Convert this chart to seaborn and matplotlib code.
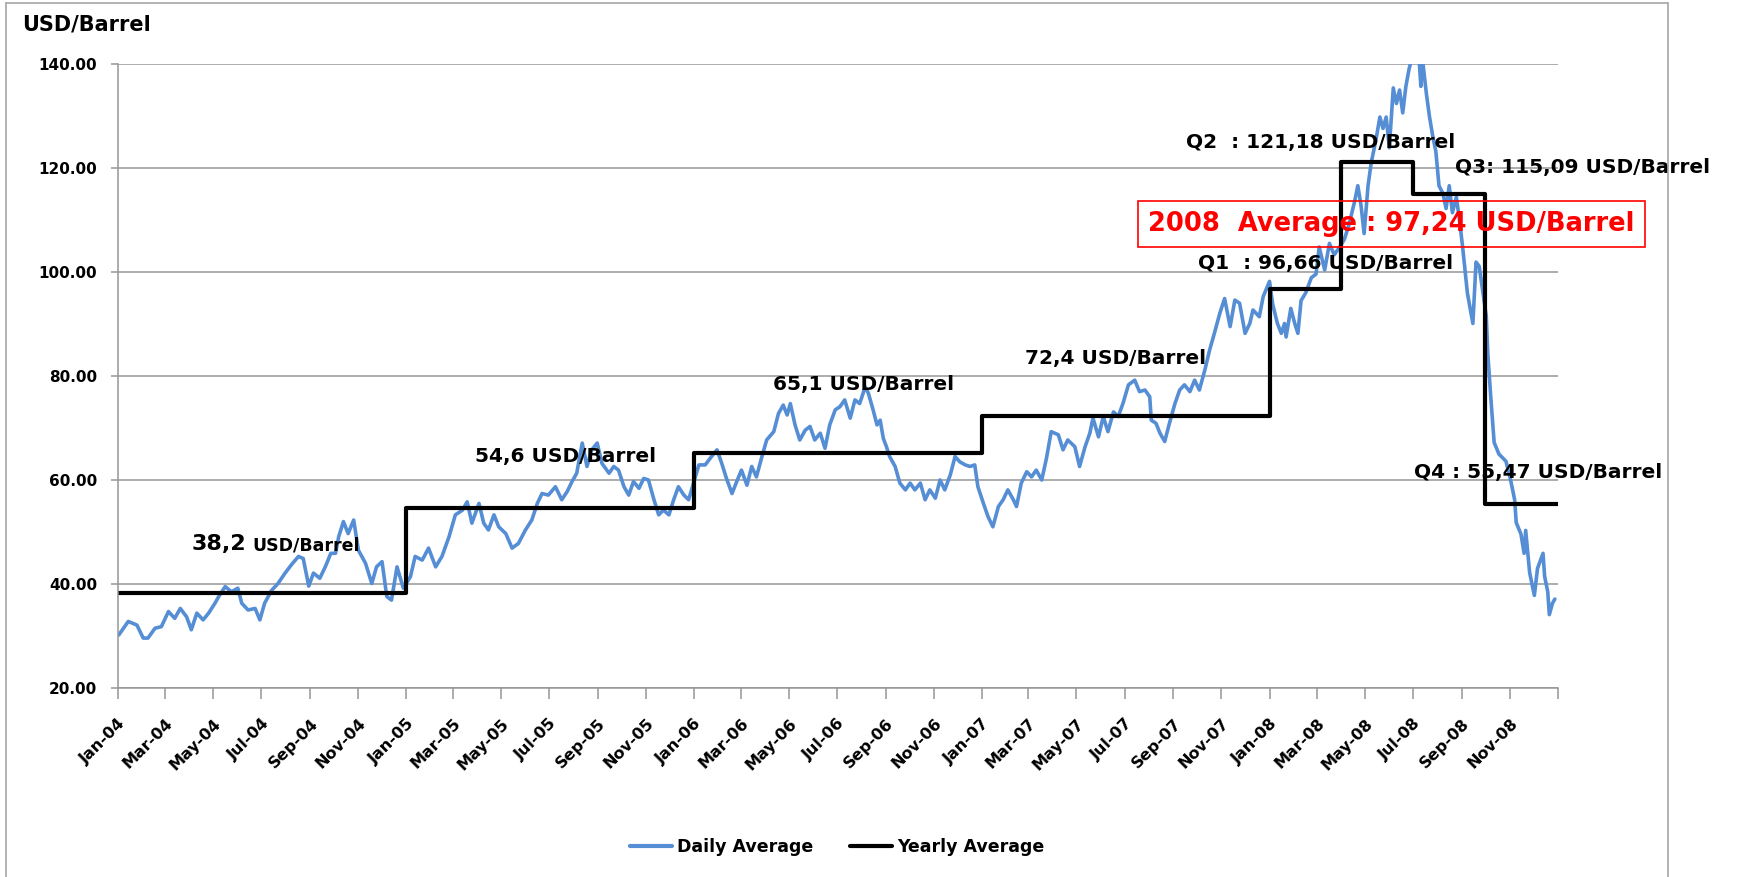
import matplotlib
matplotlib.use('Agg')
import matplotlib.pyplot as plt
from matplotlib.lines import Line2D
import seaborn as sns
import pandas as pd
import numpy as np

# Daily average price: day of the year -> USD/Barrel
days_2004 = [1, 13, 24, 32, 38, 47, 55, 64, 72, 79, 87, 93, 100, 108, 115, 123, 129, 136, 144, 152,
             157, 165, 174, 180, 186, 195, 203, 212, 220, 229, 235, 242, 248, 256, 263, 270, 276, 280,
             286, 292, 299, 305, 314, 322, 328, 335, 341, 347, 354, 362]
price_2004 = [30.2, 32.8, 32.1, 29.6, 29.6, 31.5, 31.8, 34.7, 33.4, 35.3, 33.7, 31.2, 34.4, 33.1, 34.4,
              36.3, 37.9, 39.5, 38.5, 39.2, 36.3, 35.0, 35.3, 33.1, 36.3, 38.8, 40.1, 42.1, 43.7, 45.3,
              44.9, 39.6, 42.1, 41.1, 43.3, 45.9, 45.9, 49.1, 52.0, 49.7, 52.3, 46.5, 44.0, 40.1, 43.3,
              44.3, 37.6, 36.9, 43.3, 39.2]

days_2005 = [5, 11, 20, 28, 37, 45, 54, 62, 71, 77, 83, 92, 98, 104, 111, 117, 126, 134, 142, 151,
             159, 166, 172, 180, 189, 197, 204, 210, 216, 223, 229, 235, 242, 248, 257, 263, 269, 276,
             282, 288, 295, 301, 307, 314, 320, 326, 333, 339, 345, 352, 358]
price_2005 = [41.4, 45.3, 44.6, 46.9, 43.3, 45.3, 49.1, 53.3, 54.2, 55.8, 51.7, 55.5, 51.7, 50.4, 53.3,
              51.0, 49.7, 46.9, 47.8, 50.4, 52.3, 55.5, 57.4, 57.1, 58.7, 56.2, 57.8, 59.7, 61.3, 67.1,
              62.6, 65.8, 67.1, 63.2, 61.3, 62.6, 61.9, 58.7, 57.1, 59.7, 58.4, 60.3, 60.0, 56.2, 53.3,
              54.2, 53.3, 56.2, 58.7, 57.1, 56.2]

days_2006 = [6, 14, 22, 29, 35, 41, 48, 54, 60, 67, 73, 79, 86, 92, 101, 107, 113, 118, 122, 128,
             134, 141, 147, 153, 160, 166, 172, 179, 185, 191, 198, 204, 210, 217, 221, 227, 232, 236,
             240, 244, 248, 255, 261, 268, 274, 280, 287, 293, 299, 306, 312, 318, 325, 331, 337, 344,
             350, 356, 360]
price_2006 = [62.9, 62.9, 64.5, 65.8, 63.2, 60.3, 57.4, 59.7, 61.9, 59.0, 62.6, 60.6, 64.5, 67.7, 69.3,
              72.8, 74.4, 72.5, 74.7, 70.6, 67.7, 69.6, 70.3, 67.7, 69.0, 66.1, 70.6, 73.5, 74.1, 75.4,
              71.9, 75.4, 74.7, 77.9, 76.7, 73.5, 70.6, 71.5, 68.0, 66.4, 64.5, 62.6, 59.4, 58.1, 59.4,
              58.1, 59.4, 56.2, 58.1, 56.5, 60.0, 58.1, 61.0, 64.5, 63.5, 62.9, 62.6, 62.9, 58.7]

days_2007 = [2, 8, 14, 21, 27, 33, 40, 44, 50, 57, 63, 69, 76, 82, 88, 97, 103, 109, 118, 124,
             131, 137, 141, 148, 154, 160, 167, 173, 179, 186, 194, 200, 207, 213, 215, 221, 226, 232,
             238, 245, 251, 257, 264, 270, 276, 283, 289, 295, 302, 308, 315, 321, 327, 334, 340, 344,
             352, 357]
price_2007 = [55.5, 52.9, 51.0, 54.9, 56.2, 58.1, 56.2, 54.9, 59.4, 61.6, 60.6, 61.9, 60.0, 64.2, 69.3,
              68.7, 65.8, 67.7, 66.4, 62.6, 66.4, 69.0, 71.9, 68.3, 72.2, 69.3, 73.1, 72.2, 74.7, 78.3,
              79.2, 77.0, 77.3, 76.0, 71.5, 70.9, 69.0, 67.4, 70.9, 74.7, 77.3, 78.3, 77.0, 79.2, 77.3,
              81.2, 85.0, 88.2, 92.1, 94.9, 89.5, 94.6, 94.0, 88.2, 90.1, 92.7, 91.4, 95.3]

days_2008 = [0, 4, 10, 15, 19, 21, 27, 32, 36, 40, 46, 53, 59, 63, 70, 76, 82, 89, 95, 101,
             108, 112, 116, 120, 125, 129, 135, 140, 144, 148, 152, 157, 161, 165, 169, 173, 177, 182,
             188, 192, 194, 199, 203, 207, 211, 215, 220, 224, 228, 232, 237, 241, 245, 251, 258, 262,
             266, 275, 277, 281, 285, 291, 300, 306, 311, 313, 319, 323, 325, 330, 336, 340, 347, 349,
             353, 355, 359, 362]
price_2008 = [98.2, 93.8, 90.1, 88.2, 90.1, 87.5, 93.0, 90.1, 88.2, 94.5, 96.0, 98.9, 99.6, 104.8, 100.4,
              105.5, 103.3, 104.8, 106.3, 109.2, 113.6, 116.6, 112.9, 107.4, 116.6, 121.0, 125.4, 129.8,
              127.6, 129.8, 123.9, 135.4, 132.4, 135.0, 130.6, 135.7, 139.0, 142.0, 145.0, 135.7, 141.0,
              134.3, 129.8, 126.2, 123.2, 116.6, 115.1, 112.2, 116.6, 111.4, 114.4, 110.0, 104.8, 96.0,
              90.1, 101.9, 101.1, 91.5, 84.2, 75.3, 67.2, 65.0, 63.6, 59.9, 56.2, 51.8, 49.6, 45.9, 50.3,
              42.2, 37.8, 43.0, 45.9, 41.5, 38.5, 34.1, 36.3, 37.1]

# Yearly (and 2008 quarterly) averages
step_starts = ['2004-01-01', '2005-01-01', '2006-01-01', '2007-01-01',
               '2008-01-01', '2008-04-01', '2008-07-01', '2008-10-01', '2009-01-01']
step_values = [38.2, 54.6, 65.1, 72.4, 96.66, 121.18, 115.09, 55.47]

y_ticks = [20, 40, 60, 80, 100, 120, 140]

BLUE = '#558ED5'
GRID = '#969696'

sns.set_style('white')
plt.rcParams['font.family'] = ['DejaVu Sans']
plt.rcParams['font.weight'] = 'bold'
plt.rcParams['text.color'] = 'black'
plt.rcParams['xtick.color'] = 'black'
plt.rcParams['ytick.color'] = 'black'


def year_frame(year, days, prices):
    dates = pd.Timestamp(f'{year}-01-01') + pd.to_timedelta(days, unit='D')
    return pd.DataFrame({'date': dates, 'price': prices})


daily = pd.concat([
    year_frame(2004, days_2004, price_2004),
    year_frame(2005, days_2005, price_2005),
    year_frame(2006, days_2006, price_2006),
    year_frame(2007, days_2007, price_2007),
    year_frame(2008, days_2008, price_2008),
], ignore_index=True)

yearly = pd.DataFrame({'date': pd.to_datetime(step_starts),
                       'price': step_values + step_values[-1:]})

fig = plt.figure(figsize=(17.48, 8.77), dpi=100)
ax = fig.add_axes([118 / 1748, 189 / 877, 1440 / 1748, 624 / 877])

sns.lineplot(data=daily, x='date', y='price', color=BLUE, linewidth=2.6,
             ax=ax, legend=False)
sns.lineplot(data=yearly, x='date', y='price', color='black', linewidth=3.0,
             drawstyle='steps-post', ax=ax, legend=False)

# axes
ax.set_xlim(pd.Timestamp('2004-01-01'), pd.Timestamp('2009-01-01'))
ax.set_ylim(20, 140)
ax.set_xlabel('')
ax.set_ylabel('')

ax.set_yticks(y_ticks)
ax.set_yticklabels([f'{v:.2f}' for v in y_ticks], fontsize=11, fontweight='bold')

tick_dates = pd.date_range('2004-01-01', '2009-01-01', freq='2MS')
ax.set_xticks(tick_dates)
ax.set_xticklabels([d.strftime('%b-%y') for d in tick_dates[:-1]] + [''],
                   fontsize=11.5, fontweight='bold', rotation=45, ha='right',
                   rotation_mode='anchor')

ax.yaxis.grid(True, color=GRID, linewidth=1.1)
ax.xaxis.grid(False)
for side in ['top', 'right']:
    ax.spines[side].set_visible(False)
for side in ['left', 'bottom']:
    ax.spines[side].set_color(GRID)
    ax.spines[side].set_linewidth(1.1)
ax.tick_params(axis='y', left=True, length=5, width=1.1, color=GRID, pad=10)
ax.tick_params(axis='x', bottom=True, length=8, width=1.1, color=GRID, pad=12)

# annotations
ax.text(0.0514, 0.2204, '38,2', fontsize=16, fontweight='bold', va='baseline',
        transform=ax.transAxes)
ax.text(0.0931, 0.2204, 'USD/Barrel', fontsize=12.5, fontweight='bold', va='baseline',
        transform=ax.transAxes)
labels = [
    (0.2479, 0.3702, '54,6 USD/Barrel'),
    (0.4549, 0.4856, '65,1 USD/Barrel'),
    (0.6299, 0.5288, '72,4 USD/Barrel'),
    (0.7417, 0.8734, 'Q2  : 121,18 USD/Barrel'),
    (0.9285, 0.8349, 'Q3: 115,09 USD/Barrel'),
    (0.7500, 0.6795, 'Q1  : 96,66 USD/Barrel'),
    (0.9000, 0.3446, 'Q4 : 55,47 USD/Barrel'),
]
for x, y, s in labels:
    ax.text(x, y, s, fontsize=14.5, fontweight='bold', va='center',
            transform=ax.transAxes)

ax.text(0.7153, 0.7436, '2008  Average : 97,24 USD/Barrel', fontsize=18.5,
        fontweight='bold', color='red', va='center', transform=ax.transAxes,
        bbox=dict(boxstyle='square,pad=0.4', fc='none', ec='red', lw=1.2))

fig.text(22 / 1748, 1 - 25 / 877, 'USD/Barrel', fontsize=15, fontweight='bold',
         va='center', ha='left')

# chart-area border (left, top, right)
border = '#a6a6a6'
fig.add_artist(Line2D([6 / 1748, 6 / 1748], [0, 1 - 3 / 877], color=border, lw=1.2))
fig.add_artist(Line2D([6 / 1748, 1668 / 1748], [1 - 3 / 877, 1 - 3 / 877], color=border, lw=1.2))
fig.add_artist(Line2D([1668 / 1748, 1668 / 1748], [0, 1 - 3 / 877], color=border, lw=1.2))

handles = [Line2D([0], [0], color=BLUE, lw=3.0), Line2D([0], [0], color='black', lw=3.0)]
fig.legend(handles, ['Daily Average', 'Yearly Average'], loc='center',
           bbox_to_anchor=(0.479, 1 - 847 / 877), ncol=2, frameon=False,
           prop={'weight': 'bold', 'size': 12.5}, handlelength=2.4,
           handletextpad=0.3, columnspacing=2.1)

fig.savefig('out.png', dpi=100)
